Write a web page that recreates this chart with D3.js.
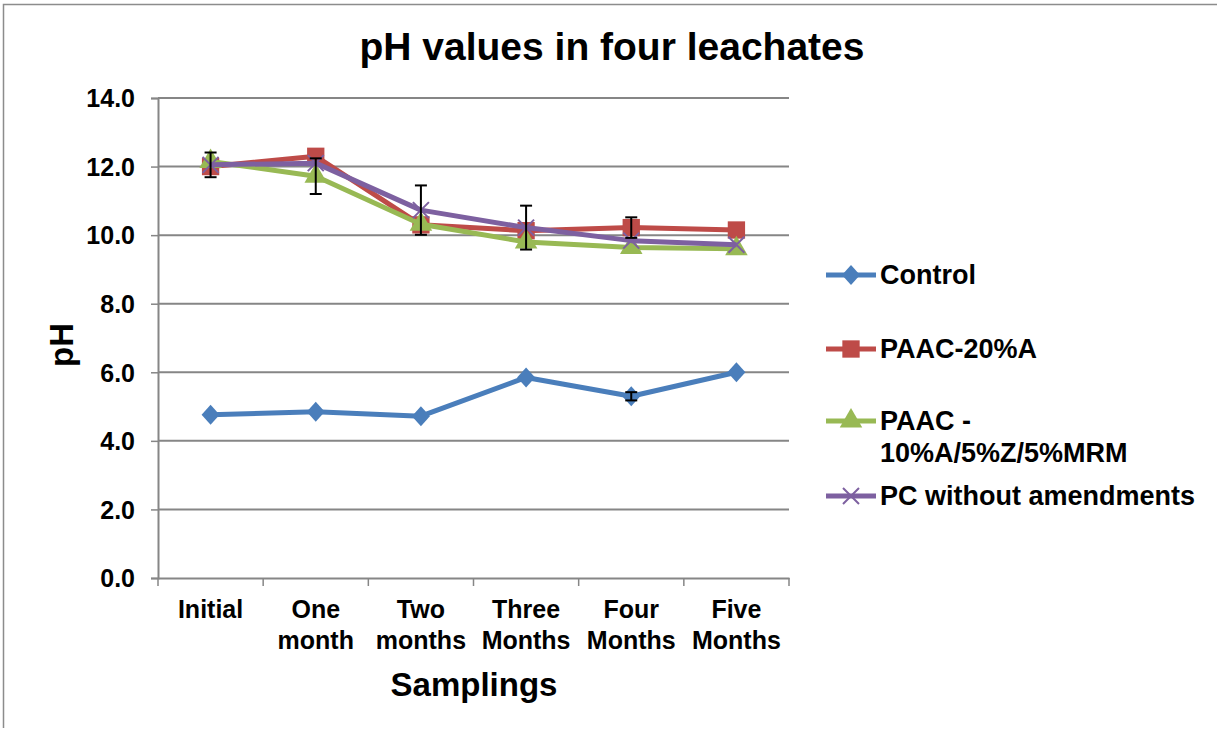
<!DOCTYPE html>
<html>
<head>
<meta charset="utf-8">
<title>pH values in four leachates</title>
<script src="https://d3js.org/d3.v7.min.js"></script>
<style>
  body { margin: 0; background: #fff; }
  text { font-family: "Liberation Sans", Arial, sans-serif; font-weight: bold; }
</style>
</head>
<body>
<div id="chart"></div>
<script>
// categories and series
var samplings = ["Initial", "One month", "Two months", "Three Months", "Four Months", "Five Months"];
var samplingLines = [["Initial"], ["One", "month"], ["Two", "months"], ["Three", "Months"], ["Four", "Months"], ["Five", "Months"]];
var yTicks = [0, 2, 4, 6, 8, 10, 12, 14];

var control   = [4.76, 4.85, 4.72, 5.85, 5.30, 6.00];
var paac20    = [12.0, 12.30, 10.30, 10.13, 10.22, 10.15];
var paacMix   = [12.15, 11.72, 10.32, 9.80, 9.64, 9.60];
var pcNoAmend = [12.05, 12.10, 10.73, 10.22, 9.84, 9.72];

// error bar half-widths (null = none drawn)
var controlErr   = [null, null, null, null, 0.12, null];
var paac20Err    = [null, null, null, null, 0.30, null];
var paacMixErr   = [null, 0.52, null, null, null, null];
var pcNoAmendErr = [0.36, null, 0.72, 0.64, null, null];

var series = [
  {name: "Control", values: control, err: controlErr, color: "#4A7EBB", marker: "diamond"},
  {name: "PAAC-20%A", values: paac20, err: paac20Err, color: "#BE4B48", marker: "square"},
  {name: "PAAC -|10%A/5%Z/5%MRM", values: paacMix, err: paacMixErr, color: "#98B954", marker: "triangle"},
  {name: "PC without amendments", values: pcNoAmend, err: pcNoAmendErr, color: "#7D60A0", marker: "x"}
];

var W = 1217, H = 730;
var plot = {left: 158, right: 789, top: 98, bottom: 578};

var svg = d3.select("#chart").append("svg")
  .attr("width", W).attr("height", H);

// outer frame
svg.append("path")
  .attr("d", "M3.5,728 V4.5 H1217")
  .attr("fill", "none").attr("stroke", "#8c8c8c").attr("stroke-width", 1.5);

var x = d3.scaleBand().domain(samplings).range([plot.left, plot.right]);
var y = d3.scaleLinear().domain([0, 14]).range([plot.bottom, plot.top]);
function cx(i) { return x(samplings[i]) + x.bandwidth() / 2; }

// gridlines
svg.append("g").selectAll("line")
  .data(yTicks.filter(function(d) { return d > 0; }))
  .enter().append("line")
    .attr("x1", plot.left).attr("x2", plot.right)
    .attr("y1", function(d) { return y(d); })
    .attr("y2", function(d) { return y(d); })
    .attr("stroke", "#868686").attr("stroke-width", 2);

// y axis
var yAxis = svg.append("g")
  .attr("transform", "translate(" + plot.left + ",0)")
  .call(d3.axisLeft(y).tickValues(yTicks).tickFormat(d3.format(".1f")).tickSize(7).tickPadding(16));
yAxis.select(".domain").attr("stroke", "#868686").attr("stroke-width", 2);
yAxis.selectAll(".tick line").attr("stroke", "#868686").attr("stroke-width", 1.5);
yAxis.selectAll(".tick text").attr("font-size", 25).attr("fill", "#000").attr("dy", "0.35em")
  .attr("font-family", "Liberation Sans, Arial, sans-serif").attr("font-weight", "bold");

// x axis
var xAxis = svg.append("g")
  .attr("transform", "translate(0," + plot.bottom + ")")
  .call(d3.axisBottom(x).tickSize(0).tickFormat(""));
xAxis.select(".domain").attr("stroke", "#868686").attr("stroke-width", 2);
svg.append("g").selectAll("line")
  .data(d3.range(samplings.length + 1))
  .enter().append("line")
    .attr("x1", function(i) { return plot.left + i * x.step(); })
    .attr("x2", function(i) { return plot.left + i * x.step(); })
    .attr("y1", plot.bottom).attr("y2", plot.bottom + 8)
    .attr("stroke", "#868686").attr("stroke-width", 1.5);

svg.append("g").selectAll("text")
  .data(samplings)
  .enter().append("text")
    .attr("x", function(d, i) { return cx(i); })
    .attr("y", 618)
    .attr("text-anchor", "middle")
    .attr("font-size", 25)
    .each(function(d, i) {
      var t = d3.select(this);
      samplingLines[i].forEach(function(s, j) {
        t.append("tspan").attr("x", cx(i)).attr("dy", j === 0 ? 0 : 31).text(s);
      });
    });

// titles
svg.append("text").attr("x", 612).attr("y", 60).attr("text-anchor", "middle")
  .attr("font-size", 39).text("pH values in four leachates");
svg.append("text").attr("x", 474).attr("y", 696).attr("text-anchor", "middle")
  .attr("font-size", 33).text("Samplings");
svg.append("text").attr("transform", "translate(73,345) rotate(-90)").attr("text-anchor", "middle")
  .attr("font-size", 33).text("pH");

function markerPath(kind) {
  if (kind === "diamond") return "M0,-10L9,0L0,10L-9,0Z";
  if (kind === "square") return d3.symbol().type(d3.symbolSquare).size(300)();
  if (kind === "triangle") return d3.symbol().type(d3.symbolTriangle).size(220)();
  return "M-8,-8L8,8M-8,8L8,-8";
}

var line = d3.line()
  .x(function(d, i) { return cx(i); })
  .y(function(d) { return y(d); });

series.forEach(function(s) {
  var g = svg.append("g");
  g.append("path").datum(s.values)
    .attr("d", line).attr("fill", "none")
    .attr("stroke", s.color).attr("stroke-width", 5).attr("stroke-linejoin", "round");
  g.selectAll("path.m").data(s.values).enter().append("path")
    .attr("class", "m")
    .attr("transform", function(d, i) { return "translate(" + cx(i) + "," + y(d) + ")"; })
    .attr("d", markerPath(s.marker))
    .attr("fill", s.marker === "x" ? "none" : s.color)
    .attr("stroke", s.color).attr("stroke-width", s.marker === "x" ? 2 : 0);
});

// error bars on top
series.forEach(function(s) {
  s.err.forEach(function(e, i) {
    if (e == null) return;
    var v = s.values[i];
    var g = svg.append("g").attr("stroke", "#000").attr("stroke-width", 2);
    g.append("line").attr("x1", cx(i)).attr("x2", cx(i)).attr("y1", y(v + e)).attr("y2", y(v - e));
    g.append("line").attr("x1", cx(i) - 6).attr("x2", cx(i) + 6).attr("y1", y(v + e)).attr("y2", y(v + e));
    g.append("line").attr("x1", cx(i) - 6).attr("x2", cx(i) + 6).attr("y1", y(v - e)).attr("y2", y(v - e));
  });
});

// legend
var legendY = [275, 349, 421, 496];
var legend = svg.append("g");
series.forEach(function(s, i) {
  var ly = legendY[i];
  legend.append("line").attr("x1", 826).attr("x2", 876).attr("y1", ly).attr("y2", ly)
    .attr("stroke", s.color).attr("stroke-width", 5);
  legend.append("path")
    .attr("transform", "translate(851," + ly + ")")
    .attr("d", markerPath(s.marker))
    .attr("fill", s.marker === "x" ? "none" : s.color)
    .attr("stroke", s.color).attr("stroke-width", s.marker === "x" ? 2 : 0);
  var t = legend.append("text").attr("x", 880).attr("y", ly).attr("font-size", 27);
  s.name.split("|").forEach(function(part, j) {
    t.append("tspan").attr("x", 880).attr("dy", j === 0 ? "0.35em" : 32).text(part);
  });
});
</script>
</body>
</html>
